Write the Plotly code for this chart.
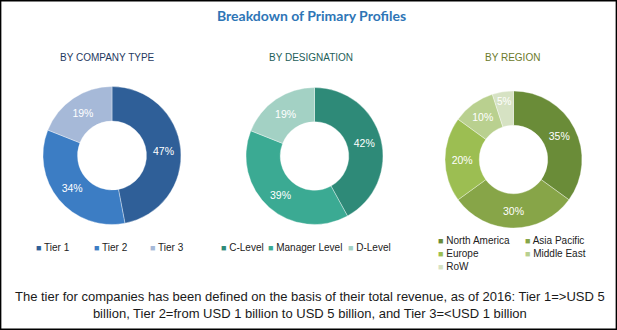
import plotly.graph_objects as go

# ---- data ----
company_labels = ["Tier 1", "Tier 2", "Tier 3"]
company_values = [47, 34, 19]
company_colors = ["#2F5F98", "#3C7DC4", "#A6B9D8"]

desig_labels = ["C-Level", "Manager Level", "D-Level"]
desig_values = [42, 39, 19]
desig_colors = ["#2E8A78", "#3BAA93", "#A3D1C4"]

region_labels = ["North America", "Asia Pacific", "Europe", "Middle East", "RoW"]
region_values = [35, 30, 20, 10, 5]
region_colors = ["#6A8C38", "#87A548", "#9CBE52", "#B9D08F", "#D6E2C3"]

subtitles = ["BY COMPANY TYPE", "BY DESIGNATION", "BY REGION"]
subtitle_colors = ["#1F3A5F", "#1E6059", "#6B7A2A"]
main_title = "Breakdown of Primary Profiles"
footnote = ("The tier for companies has been defined on the basis of their total revenue, as of 2016: Tier 1=>USD 5<br>"
            "billion, Tier 2=from USD 1 billion to USD 5 billion, and Tier 3=<USD 1 billion")

W, H = 617, 330
NARROW = "Liberation Sans Narrow, Arial Narrow, Liberation Sans, Arial, sans-serif"

def px_x(x):
    return x / W

def px_y(y):
    return 1 - y / H

fig = go.Figure()

# pie geometry (pixel centers and radius)
pies = [
    (company_labels, company_values, company_colors, 112, 155.5, 69),
    (desig_labels, desig_values, desig_colors, 314.5, 156, 68.5),
    (region_labels, region_values, region_colors, 513.5, 159.5, 68.5),
]

for labels, values, colors, cx, cy, r in pies:
    fig.add_trace(go.Pie(
        labels=labels, values=values,
        marker=dict(colors=colors, line=dict(color="rgba(255,255,255,0.6)", width=0.6)),
        hole=0.5, sort=False, direction="clockwise", rotation=0,
        textinfo="text", texttemplate="%{value}%", textposition="inside",
        insidetextorientation="horizontal",
        textfont=dict(color="white", size=10.5, family=NARROW),
        domain=dict(x=[px_x(cx - r), px_x(cx + r)], y=[px_y(cy + r), px_y(cy - r)]),
        showlegend=False, hoverinfo="label+percent",
    ))

annotations = []
# main title
annotations.append(dict(text="<b>" + main_title + "</b>", x=px_x(311), y=px_y(16), xref="paper", yref="paper",
                        showarrow=False, xanchor="center", yanchor="middle",
                        font=dict(family="Lato, sans-serif", size=14, color="#2E75B6")))
# subtitles
for t, c, x in zip(subtitles, subtitle_colors, [107, 311, 512]):
    annotations.append(dict(text=t, x=px_x(x), y=px_y(57), xref="paper", yref="paper",
                            showarrow=False, xanchor="center", yanchor="middle",
                            font=dict(family=NARROW, size=10, color=c)))

# manual legends
def legend_item(label, color, x, y):
    annotations.append(dict(
        text="<span style='color:%s;font-size:9px'>■</span> %s" % (color, label),
        x=px_x(x), y=px_y(y), xref="paper", yref="paper", showarrow=False,
        xanchor="left", yanchor="middle",
        font=dict(family=NARROW, size=10, color="#222222")))

for lab, col, x in zip(company_labels, company_colors, [34, 92, 148]):
    legend_item(lab, col, x, 247)
for lab, col, x in zip(desig_labels, desig_colors, [219, 266, 346]):
    legend_item(lab, col, x, 247)
reg_pos = [(436, 240), (523, 240), (436, 253), (523, 253), (436, 266)]
for lab, col, (x, y) in zip(region_labels, region_colors, reg_pos):
    legend_item(lab, col, x, y)

# footnote
annotations.append(dict(text=footnote, x=px_x(310), y=px_y(305), xref="paper", yref="paper",
                        showarrow=False, xanchor="center", yanchor="middle", align="center",
                        font=dict(family=NARROW, size=13, color="#1a1a1a")))

fig.update_layout(
    width=W, height=H,
    margin=dict(l=0, r=0, t=0, b=0),
    paper_bgcolor="white", plot_bgcolor="white",
    annotations=annotations,
    shapes=[dict(type="rect", xref="paper", yref="paper", x0=0.001, y0=0.002, x1=0.999, y1=0.998,
                 line=dict(color="black", width=1.5))],
)

fig.write_html("out.html")
